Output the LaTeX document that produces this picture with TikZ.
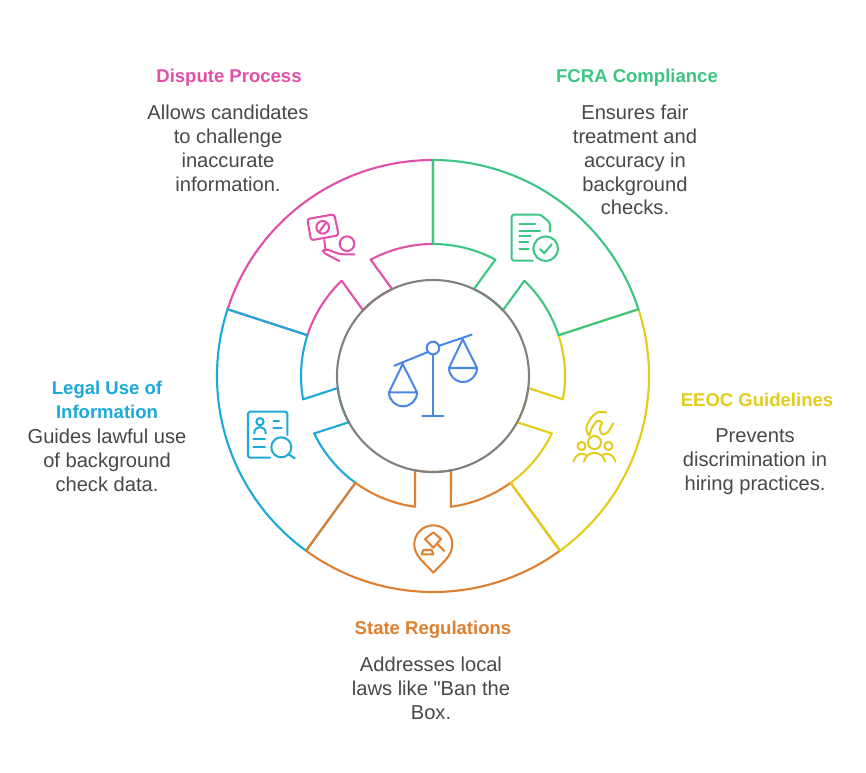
\documentclass[tikz,border=0pt]{standalone}
\usepackage{fontspec}
\newfontfamily\labelfont{Liberation Sans}
\definecolor{Pinkline}{HTML}{E24FA8}
\definecolor{Greenline}{HTML}{3CC583}
\definecolor{Yellowline}{HTML}{E3CC1B}
\definecolor{Orangeline}{HTML}{E0802F}
\definecolor{Cyanline}{HTML}{1DA9DA}
\definecolor{Blueline}{HTML}{4A86E8}
\definecolor{Hub}{HTML}{808080}
\definecolor{Bodytext}{HTML}{484848}
\tikzset{
    ringline/.style={line width=1.2pt, line join=round},
    iconline/.style={line width=1.15pt, line cap=round, line join=round},
    titlenode/.style={align=center, inner sep=0pt, font=\labelfont\fontsize{10.55}{13.6}\selectfont\bfseries},
    bodynode/.style={align=center, inner sep=0pt, text=Bodytext, font=\labelfont\fontsize{11.45}{13.6}\selectfont},
}
\begin{document}
\begin{tikzpicture}[x=0.02cm, y=0.02cm]
    \useasboundingbox (0,0) rectangle (866,-773);
    \fill[white] (0,0) rectangle (866,-773);

    % Ring of five segments, later ones lie over the shared spokes
    \begin{scope}[shift={(433,-376)}]
        \foreach \a/\c in {162/Pinkline, 234/Cyanline, 306/Orangeline, 378/Yellowline, 450/Greenline} {
            \draw[ringline, \c] (\a:216) arc[start angle=\a, end angle=\a-72, radius=216]
                -- (\a-72:132) arc[start angle=\a-72, end angle=\a-43.8, radius=132]
                -- (\a-46.8:96) arc[start angle=\a-46.8, end angle=\a-25.2, radius=96]
                -- (\a-28.2:132) arc[start angle=\a-28.2, end angle=\a, radius=132]
                -- cycle;
        }
        \draw[ringline, Hub] (0,0) circle (96);
    \end{scope}

    % Icons, in picture pixels with y going down
    \begin{scope}[yscale=-1]
        % Scales
        \begin{scope}[iconline, Blueline]
            \draw (433,348) circle (6.3);
            \draw (394.3,365.7) -- (427.2,352.3);
            \draw (439,345.8) -- (471.7,334.7);
            \draw (433,354.3) -- (433,416);
            \draw (422.3,416) -- (443.7,416);
            \draw (389,392.3) -- (402.7,364) -- (417,392.3) -- cycle;
            \draw (389,392.3) arc[start angle=180, end angle=0, radius=14];
            \draw (449,368) -- (462.7,339.3) -- (477,368) -- cycle;
            \draw (449,368) arc[start angle=180, end angle=0, radius=14];
        \end{scope}
        % Protest sign
        \begin{scope}[iconline, Pinkline]
            \draw[rounded corners=1.5] (307.3,219) -- (334.3,214.3) -- (338.7,235.3) -- (311,240.3) -- cycle;
            \draw (322.7,227.3) circle (6.3);
            \draw (319.3,231.7) -- (326,222.7);
            \draw (324.3,240) -- (325.3,248.7);
            \draw (347,243.7) circle (7.3);
            \draw[rounded corners=2] (354.3,254.3) -- (340,254.3) -- (325.3,248.7) -- (322,252) -- (339.3,261);
        \end{scope}
        % Checked document
        \begin{scope}[iconline, Greenline]
            \draw[rounded corners=1] (550,231.7) -- (550,222.7) -- (540.7,214.7) -- (511.7,214.7) -- (511.7,260.7) -- (532.7,260.7);
            \draw (519.3,224.3) -- (535,224.3);
            \draw (519.3,230.7) -- (540,230.7);
            \draw (519.3,236) -- (530.7,236);
            \draw (519.3,242.3) -- (528.3,242.3);
            \draw (519.3,248.7) -- (528.7,248.7);
            \draw (545.7,248.7) circle (12.3);
            \draw (540,249) -- (544.3,253.3) -- (551.7,244.3);
        \end{scope}
        % Group under a hand
        \begin{scope}[iconline, Yellowline]
            \draw (594.5,442.5) circle (6.5);
            \draw (581.5,446) circle (4);
            \draw (608.5,446) circle (4);
            \draw (584,461.7) .. controls (586,450) and (603,450) .. (605,461.7);
            \draw (573.5,461.5) .. controls (575,455) and (581,452) .. (586,454.7);
            \draw (615.5,461.5) .. controls (614,455) and (608,452) .. (603,454.7);
            \draw plot[smooth] coordinates {(606.3,412.7) (598.7,412) (591.3,417.7) (586.3,427.7) (589,435.3) (592,427.7) (597.3,421) (602,422.7) (599.7,428.7) (602.3,434.3) (608,432) (613.3,423.3)};
        \end{scope}
        % Gavel in a pin
        \begin{scope}[iconline, Orangeline]
            \draw (433.3,572.7) .. controls (424,562) and (414.3,556) .. (414.3,544.3) arc[start angle=180, end angle=360, radius=19] .. controls (452.3,556) and (443,562) .. (433.3,572.7);
            \draw (425,539) -- (433.3,532.3) -- (441,539) -- (433.3,547.7) -- cycle;
            \draw (436.7,543.3) -- (444.3,551);
            \draw (421.7,554.3) -- (423.3,550) -- (431.7,550) -- (433.3,554.3) -- cycle;
        \end{scope}
        % Profile under a magnifier
        \begin{scope}[iconline, Cyanline]
            \draw[rounded corners=1] (287.3,435) -- (287.3,411.7) -- (248,411.7) -- (248,457.7) -- (270,457.7);
            \draw (260,421.7) circle (3.6);
            \draw (254.3,433.3) .. controls (254.3,425) and (265.7,425) .. (265.7,433.3);
            \draw (273.3,420.7) -- (279,420.7);
            \draw (273.3,428.3) -- (281.7,428.3);
            \draw (253.3,439.3) -- (265,439.3);
            \draw (253.3,447.3) -- (265,447.3);
            \draw (281.3,447.3) circle (10);
            \draw (288.7,454.3) -- (294.7,458.3);
        \end{scope}
    \end{scope}

    % Labels
    \node[titlenode, text=Pinkline] (disputetitle) at (229,-78) {Dispute Process};
    \node[bodynode] (disputebody) at (228,-148) {Allows candidates\\to challenge\\inaccurate\\information.};
    \node[titlenode, text=Greenline] (fcratitle) at (637,-78) {FCRA Compliance};
    \node[bodynode] (fcrabody) at (635,-160) {Ensures fair\\treatment and\\accuracy in\\background\\checks.};
    \node[titlenode, text=Yellowline] (eeoctitle) at (757,-400) {EEOC Guidelines};
    \node[bodynode] (eeocbody) at (755,-462) {Prevents\\discrimination in\\hiring practices.};
    \node[titlenode, text=Orangeline] (statetitle) at (433,-630) {State Regulations};
    \node[bodynode] (statebody) at (431,-688) {Addresses local\\laws like "Ban the\\Box.};
    \node[titlenode, text=Cyanline] (legaltitle) at (107,-400) {Legal Use of\\Information};
    \node[bodynode] (legalbody) at (107,-460) {Guides lawful use\\of background\\check data.};
\end{tikzpicture}
\end{document}
